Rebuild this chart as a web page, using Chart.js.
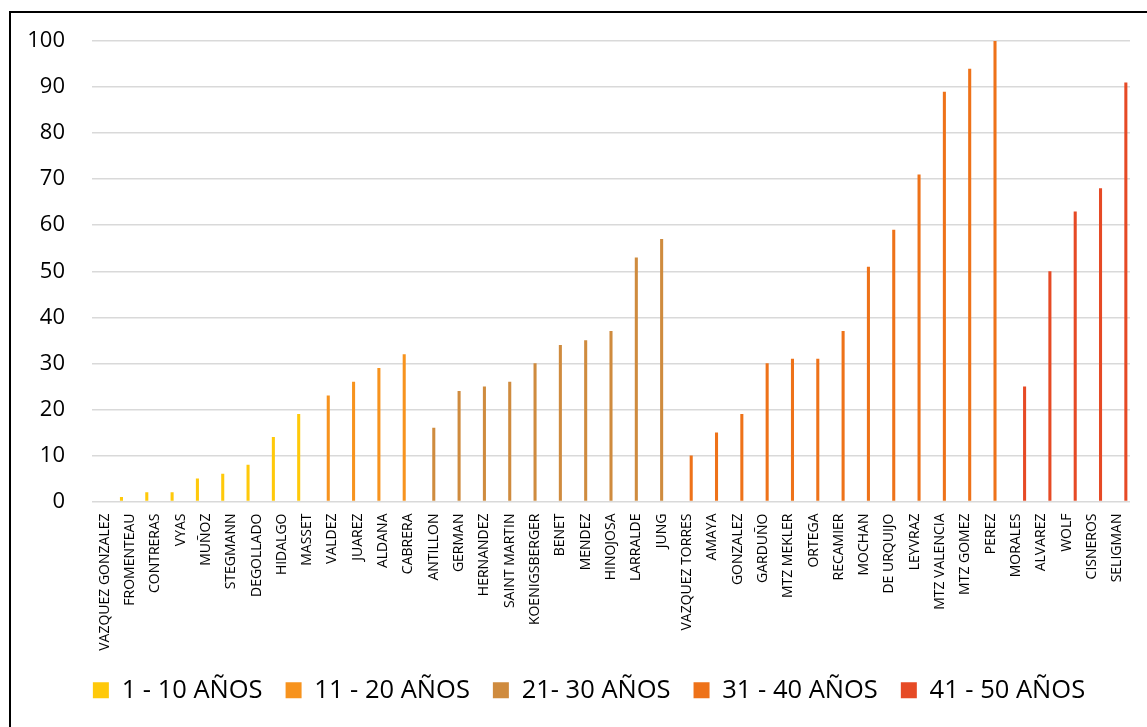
<!DOCTYPE html>
<html>
<head>
<meta charset="utf-8">
<script src="https://cdn.jsdelivr.net/npm/chart.js@4.4.1/dist/chart.umd.min.js"></script>
<style>
  html, body { margin: 0; padding: 0; background: #fff; overflow: hidden; }
  #wrap { position: relative; width: 1147px; height: 727px; overflow: hidden; }
  #marco { position: absolute; left: 9px; top: 11px; width: 1200px; height: 800px;
           border: 2px solid #000; box-sizing: border-box; }
  #grafica { position: absolute; left: 0; top: 0; }
</style>
</head>
<body>
<div id="wrap">
  <div id="marco"></div>
  <canvas id="grafica" width="1147" height="727"></canvas>
</div>
<script>
// Profesores agrupados por rango de antigüedad
const nombres1a10 = ["VAZQUEZ GONZALEZ", "FROMENTEAU", "CONTRERAS", "VYAS", "MUÑOZ", "STEGMANN", "DEGOLLADO", "HIDALGO", "MASSET"];
const valores1a10 = [0, 1, 2, 2, 5, 6, 8, 14, 19];

const nombres11a20 = ["VALDEZ", "JUAREZ", "ALDANA", "CABRERA"];
const valores11a20 = [23, 26, 29, 32];

const nombres21a30 = ["ANTILLON", "GERMAN", "HERNANDEZ", "SAINT MARTIN", "KOENIGSBERGER", "BENET", "MENDEZ", "HINOJOSA", "LARRALDE", "JUNG"];
const valores21a30 = [16, 24, 25, 26, 30, 34, 35, 37, 53, 57];

const nombres31a40 = ["VAZQUEZ TORRES", "AMAYA", "GONZALEZ", "GARDUÑO", "MTZ MEKLER", "ORTEGA", "RECAMIER", "MOCHAN", "DE URQUIJO", "LEYVRAZ", "MTZ VALENCIA", "MTZ GOMEZ", "PEREZ"];
const valores31a40 = [10, 15, 19, 30, 31, 31, 37, 51, 59, 71, 89, 94, 100];

const nombres41a50 = ["MORALES", "ALVAREZ", "WOLF", "CISNEROS", "SELIGMAN"];
const valores41a50 = [25, 50, 63, 68, 91];

const rangos = ["1 - 10 AÑOS", "11 - 20 AÑOS", "21- 30 AÑOS", "31 - 40 AÑOS", "41 - 50 AÑOS"];
const colores = ["#FFC90A", "#F7931E", "#CF8B3E", "#EE7219", "#E64A25"];
const yTicks = [0, 10, 20, 30, 40, 50, 60, 70, 80, 90, 100];

const gruposNombres = [nombres1a10, nombres11a20, nombres21a30, nombres31a40, nombres41a50];
const gruposValores = [valores1a10, valores11a20, valores21a30, valores31a40, valores41a50];

const categorias = [].concat(...gruposNombres);

// Cada serie ocupa sólo las categorías de su rango; el resto queda vacío
const datasets = gruposValores.map((vals, g) => {
  const inicio = gruposNombres.slice(0, g).reduce((s, a) => s + a.length, 0);
  const data = categorias.map((_, i) => (i >= inicio && i < inicio + vals.length) ? vals[i - inicio] : null);
  return {
    label: rangos[g],
    data: data,
    backgroundColor: colores[g],
    borderWidth: 0,
    categoryPercentage: 0.84,
    barPercentage: 0.72
  };
});

const FUENTE = "'Open Sans', 'DejaVu Sans', sans-serif";

// Desplaza la leyenda para centrarla bajo el marco completo
const moverLeyenda = {
  id: 'moverLeyenda',
  afterLayout(chart) {
    const l = chart.legend;
    if (l) { l.left += 24; l.right += 24; l.top += 2; l.bottom += 2; }
  }
};

new Chart(document.getElementById('grafica'), {
  type: 'bar',
  data: { labels: categorias, datasets: datasets },
  plugins: [moverLeyenda],
  options: {
    responsive: false,
    devicePixelRatio: 1,
    animation: false,
    layout: { padding: { top: 41, left: 0, right: 17, bottom: 16 } },
    plugins: {
      tooltip: { enabled: false },
      legend: {
        position: 'bottom',
        labels: {
          boxWidth: 16,
          boxHeight: 16,
          padding: 23,
          color: '#000',
          font: { family: FUENTE, size: 25.5 }
        }
      }
    },
    scales: {
      x: {
        grid: { display: false, drawTicks: false },
        border: { display: false },
        ticks: {
          autoSkip: false,
          maxRotation: 90,
          minRotation: 90,
          padding: 12,
          color: '#000',
          font: { family: FUENTE, size: 14 }
        },
        afterFit: (scale) => { scale.height = 151; }
      },
      y: {
        min: 0,
        max: 100,
        afterBuildTicks: (scale) => { scale.ticks = yTicks.map(v => ({ value: v })); },
        grid: { color: '#D9D9D9', lineWidth: 1.5, drawTicks: false },
        border: { display: false },
        ticks: {
          padding: 27,
          color: '#000',
          font: { family: FUENTE, size: 22 }
        },
        afterFit: (scale) => { scale.width = 92; }
      }
    }
  }
});
</script>
</body>
</html>
